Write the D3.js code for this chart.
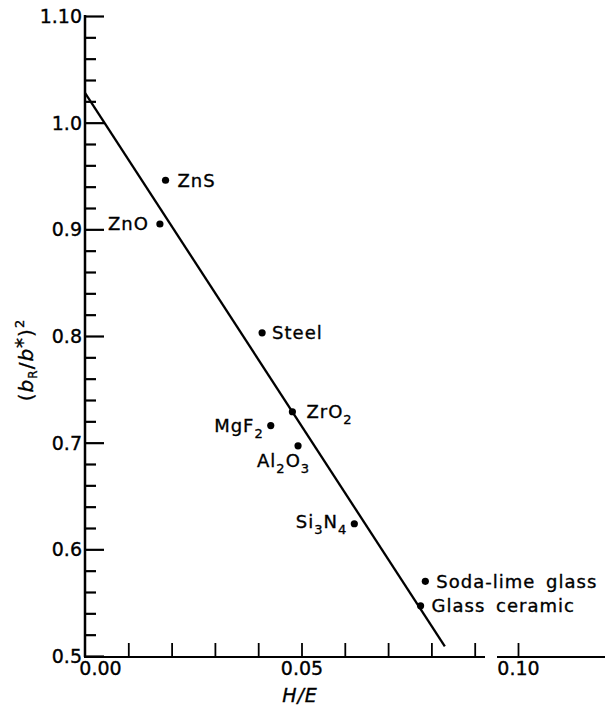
<!DOCTYPE html>
<html>
<head>
<meta charset="utf-8">
<script src="https://cdn.jsdelivr.net/npm/d3@7"></script>
<style>
  html, body { margin: 0; padding: 0; background: #fff; }
  svg { display: block; }
  text { font-family: "DejaVu Sans", sans-serif; fill: #000; stroke: #000; stroke-width: 0.35px; }
</style>
</head>
<body>
<svg id="chart" width="608" height="707"></svg>
<script>
// ---- data ----
const materials = ["ZnS", "ZnO", "Steel", "ZrO_2", "MgF_2", "Al_2O_3", "Si_3N_4", "Soda-lime glass", "Glass ceramic"];
const hOverE    = [0.0186, 0.0173, 0.0409, 0.0479, 0.0429, 0.0492, 0.0622, 0.0786, 0.0775];
const bRatioSq  = [0.946, 0.905, 0.803, 0.729, 0.716, 0.697, 0.624, 0.570, 0.547];
const fitX = [0.0, 0.0831];
const fitY = [1.028, 0.509];
const yMajorTicks = [0.5, 0.6, 0.7, 0.8, 0.9, 1.0, 1.1];
const yMajorLabels = ["0.5", "0.6", "0.7", "0.8", "0.9", "1.0", "1.10"];
const yMinorTicks = [0.52,0.54,0.56,0.58,0.62,0.64,0.66,0.68,0.72,0.74,0.76,0.78,0.82,0.84,0.86,0.88,0.92,0.94,0.96,0.98,1.02,1.04,1.06,1.08];
const xTicks = [0.0, 0.01, 0.02, 0.03, 0.04, 0.05, 0.06, 0.07, 0.08, 0.09, 0.10];
const xTickLabels = {"0": "0.00", "0.05": "0.05", "0.1": "0.10"};

// label placement (layout, not data)
const labelLayout = [
  {dx: 12, dy: 0, anchor: "start"},
  {dx: -11, dy: 0, anchor: "end"},
  {dx: 10, dy: 0, anchor: "start"},
  {dx: 14, dy: 0, anchor: "start"},
  {dx: -7, dy: 0, anchor: "end"},
  {dx: -41, dy: 15, anchor: "start"},
  {dx: -7, dy: -2, anchor: "end"},
  {dx: 11, dy: 0, anchor: "start"},
  {dx: 11, dy: 0, anchor: "start"}
];

const svg = d3.select("#chart");
const x = d3.scaleLinear().domain([0, 0.10]).range([85, 518]);
const y = d3.scaleLinear().domain([0.5, 1.10]).range([656, 16]);
const fs = 18;

// ---- Y axis ----
const yAxisMajor = d3.axisLeft(y).tickValues(yMajorTicks).tickSize(-19)
  .tickFormat((d, i) => yMajorLabels[i]).tickPadding(-16);
const gy = svg.append("g").attr("transform", "translate(85,0)").call(yAxisMajor);
gy.select(".domain").remove();
gy.selectAll(".tick line").attr("stroke", "#000").attr("stroke-width", 2.2);
gy.selectAll(".tick text").attr("x", -3).attr("dy", "0.35em").attr("text-anchor", "end")
  .style("font-size", "19px").style("font-family", "DejaVu Sans, sans-serif");
const gyMinor = svg.append("g").attr("transform", "translate(85,0)")
  .call(d3.axisLeft(y).tickValues(yMinorTicks).tickSize(-11).tickFormat(""));
gyMinor.select(".domain").remove();
gyMinor.selectAll(".tick line").attr("stroke", "#000").attr("stroke-width", 2.2);
svg.append("line").attr("x1", 85).attr("x2", 85).attr("y1", y(1.10) - 1).attr("y2", y(0.5) + 1)
  .attr("stroke", "#000").attr("stroke-width", 2.5);

// ---- X axis ----
const xAxis = d3.axisBottom(x).tickValues(xTicks).tickSize(-13)
  .tickFormat(d => xTickLabels[String(+d.toFixed(2))] || "").tickPadding(18);
const gx = svg.append("g").attr("transform", "translate(0,656)").call(xAxis);
gx.select(".domain").remove();
gx.selectAll(".tick line").attr("stroke", "#000").attr("stroke-width", 1.8)
  .filter(d => d === 0).remove();
gx.selectAll(".tick text").attr("y", 19).attr("dy", 0).style("font-size", "19px")
  .style("font-family", "DejaVu Sans, sans-serif")
  .attr("dx", d => d === 0 ? 15 : 0);
// broken baseline
svg.append("line").attr("x1", 84).attr("x2", 485).attr("y1", 657).attr("y2", 657)
  .attr("stroke", "#000").attr("stroke-width", 2);
svg.append("line").attr("x1", 497).attr("x2", 605).attr("y1", 657).attr("y2", 657)
  .attr("stroke", "#000").attr("stroke-width", 2);

// ---- titles ----
svg.append("text").attr("x", 300).attr("y", 702).attr("text-anchor", "middle")
  .style("font-size", "19px").style("font-style", "italic").style("letter-spacing", "1px").text("H/E");

const yt = svg.append("text").attr("transform", "translate(33,360) rotate(-90)")
  .attr("text-anchor", "middle").style("font-size", "20px").style("letter-spacing", "1px");
yt.append("tspan").text("(");
yt.append("tspan").style("font-style", "italic").text("b");
yt.append("tspan").attr("dy", 4).style("font-size", "12px").text("R");
yt.append("tspan").attr("dy", -4).text("/");
yt.append("tspan").style("font-style", "italic").text("b");
yt.append("tspan").attr("dy", -4).text("*");
yt.append("tspan").attr("dy", 4).text(")");
yt.append("tspan").attr("dy", -9).style("font-size", "13px").text("2");

// ---- fit line ----
const lineData = fitX.map((v, i) => [v, fitY[i]]);
svg.append("path").datum(lineData)
  .attr("d", d3.line().x(d => x(d[0])).y(d => y(d[1])))
  .attr("fill", "none").attr("stroke", "#000").attr("stroke-width", 2.3);

// ---- points ----
const pts = materials.map((m, i) => ({name: m, hx: hOverE[i], by: bRatioSq[i], L: labelLayout[i]}));
svg.append("g").selectAll("circle").data(pts).join("circle")
  .attr("cx", d => x(d.hx)).attr("cy", d => y(d.by)).attr("r", 3.6).attr("fill", "#000");

// ---- labels with subscripts ----
pts.forEach(p => {
  const t = svg.append("text")
    .attr("x", x(p.hx) + p.L.dx).attr("y", y(p.by) + p.L.dy)
    .attr("dy", "0.35em").attr("text-anchor", p.L.anchor)
    .style("font-size", fs + "px").style("letter-spacing", "1px").style("word-spacing", "4px");
  const parts = p.name.split(/(_\d)/).filter(s => s.length);
  let sub = false;
  parts.forEach(s => {
    if (s[0] === "_") {
      t.append("tspan").attr("dy", 6).style("font-size", "13px").text(s.slice(1));
      sub = true;
    } else {
      t.append("tspan").attr("dy", sub ? -6 : null).text(s);
      sub = false;
    }
  });
});
</script>
</body>
</html>
